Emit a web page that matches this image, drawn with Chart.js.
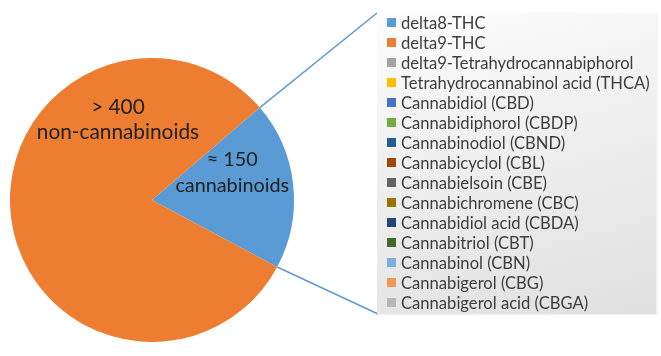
<!DOCTYPE html>
<html>
<head>
<meta charset="utf-8">
<script src="https://cdn.jsdelivr.net/npm/chart.js@4/dist/chart.umd.min.js"></script>
<style>
  html, body { margin:0; padding:0; background:#fff; }
  #wrap { position:relative; width:661px; height:356px; overflow:hidden; }
  #c { position:absolute; left:0; top:0; }
  #box {
    position:absolute; left:377px; top:13px; width:279px; height:301px;
    background: linear-gradient(165deg, #fdfdfd 0%, #efefef 45%, #e0e0e0 100%);
    box-shadow: 1px 1px 2px rgba(0,0,0,0.08);
    font-family: Lato, "Open Sans", sans-serif; font-size:16.6px; color:#3d3d3d;
  }
  .row { position:absolute; left:10px; height:20px; line-height:20px; white-space:nowrap; }
  .sw { position:absolute; left:0; top:5.5px; width:9px; height:9px; }
  .tx { position:absolute; left:14px; top:0; }
</style>
</head>
<body>
<div id="wrap">
  <canvas id="c" width="661" height="356"></canvas>
  <div id="box"></div>
</div>
<script>
// Pie slices (share of the circle) and their labels
const sliceNames = ["cannabinoids", "non-cannabinoids"];
const sliceLabels = [["\u2248 150", "cannabinoids"], ["> 400", "non-cannabinoids"]];
const sliceValues = [19.1, 80.9];
const sliceColors = ["#5b9bd5", "#ed7d31"];

// Breakdown list of cannabinoids
const compounds = [
  "delta8-THC", "delta9-THC", "delta9-Tetrahydrocannabiphorol",
  "Tetrahydrocannabinol acid (THCA)", "Cannabidiol (CBD)", "Cannabidiphorol (CBDP)",
  "Cannabinodiol (CBND)", "Cannabicyclol (CBL)", "Cannabielsoin (CBE)",
  "Cannabichromene (CBC)", "Cannabidiol acid (CBDA)", "Cannabitriol (CBT)",
  "Cannabinol (CBN)", "Cannabigerol (CBG)", "Cannabigerol acid (CBGA)"
];
const compoundColors = [
  "#5b9bd5", "#ed7d31", "#a5a5a5", "#ffc000", "#4472c4", "#70ad47",
  "#255e91", "#9e480e", "#636363", "#997300", "#264478", "#43682b",
  "#7cafdd", "#f1975a", "#b7b7b7"
];

// Build list box
const box = document.getElementById('box');
compounds.forEach((name, i) => {
  const r = document.createElement('div');
  r.className = 'row';
  r.style.top = (-0.5 + i * 20) + 'px';
  const s = document.createElement('div');
  s.className = 'sw'; s.style.background = compoundColors[i];
  const t = document.createElement('span');
  t.className = 'tx'; t.textContent = name;
  r.appendChild(s); r.appendChild(t);
  box.appendChild(r);
});

function fillFor(ctx) {
  const chart = ctx.chart;
  const meta = chart.getDatasetMeta(0);
  const arc = meta.data[ctx.dataIndex];
  const c = chart.ctx;
  if (!arc || !arc.outerRadius) return sliceColors[ctx.dataIndex];
  const x = arc.x, y = arc.y, r = arc.outerRadius;
  if (ctx.dataIndex === 0) {
    const g = c.createRadialGradient(x, y, 0, x, y, r);
    g.addColorStop(0, "#4a8ed6");
    g.addColorStop(1, "#64a2dc");
    return g;
  } else {
    const g = c.createLinearGradient(0, y - r, 0, y + r);
    g.addColorStop(0, "#ef8d53");
    g.addColorStop(0.45, "#f07c33");
    g.addColorStop(1, "#ee7422");
    return g;
  }
}

const overlay = {
  id: 'overlay',
  afterDraw(chart) {
    const meta = chart.getDatasetMeta(0);
    const arc = meta.data[0];
    const c = chart.ctx;
    const x = arc.x, y = arc.y, r = arc.outerRadius;
    const bx = box.offsetLeft, by = box.offsetTop, bh = box.offsetHeight;
    c.save();
    c.strokeStyle = "#5b9bd5";
    c.lineWidth = 1.5;
    c.beginPath();
    c.moveTo(x + r * Math.cos(arc.startAngle), y + r * Math.sin(arc.startAngle));
    c.lineTo(bx, by);
    c.moveTo(x + r * Math.cos(arc.endAngle), y + r * Math.sin(arc.endAngle));
    c.lineTo(bx + 1, by + bh);
    c.stroke();

    c.fillStyle = "#1f1f1f";
    c.textAlign = 'center';
    c.textBaseline = 'middle';
    // blue slice label
    c.font = '19.8px Lato, "Open Sans", sans-serif';
    const b = sliceLabels[0];
    c.fillText(b[0], x + 0.565 * r, y - 0.19 * r - 13);
    c.fillText(b[1], x + 0.565 * r, y - 0.19 * r + 13);
    // orange slice label
    c.font = '20.8px Lato, "Open Sans", sans-serif';
    const o = sliceLabels[1];
    c.fillText(o[0], x - 0.24 * r, y - 0.56 * r - 13);
    c.fillText(o[1], x - 0.24 * r, y - 0.56 * r + 12);
    c.restore();
  }
};

new Chart(document.getElementById('c'), {
  type: 'pie',
  data: {
    labels: sliceNames,
    datasets: [{
      data: sliceValues,
      backgroundColor: fillFor,
      borderWidth: 0
    }]
  },
  options: {
    responsive: false,
    animation: false,
    rotation: 49.4,
    layout: { padding: { left: 10, top: 58, right: 367, bottom: 14 } },
    plugins: { legend: { display: false }, tooltip: { enabled: false } }
  },
  plugins: [overlay]
});
</script>
</body>
</html>
